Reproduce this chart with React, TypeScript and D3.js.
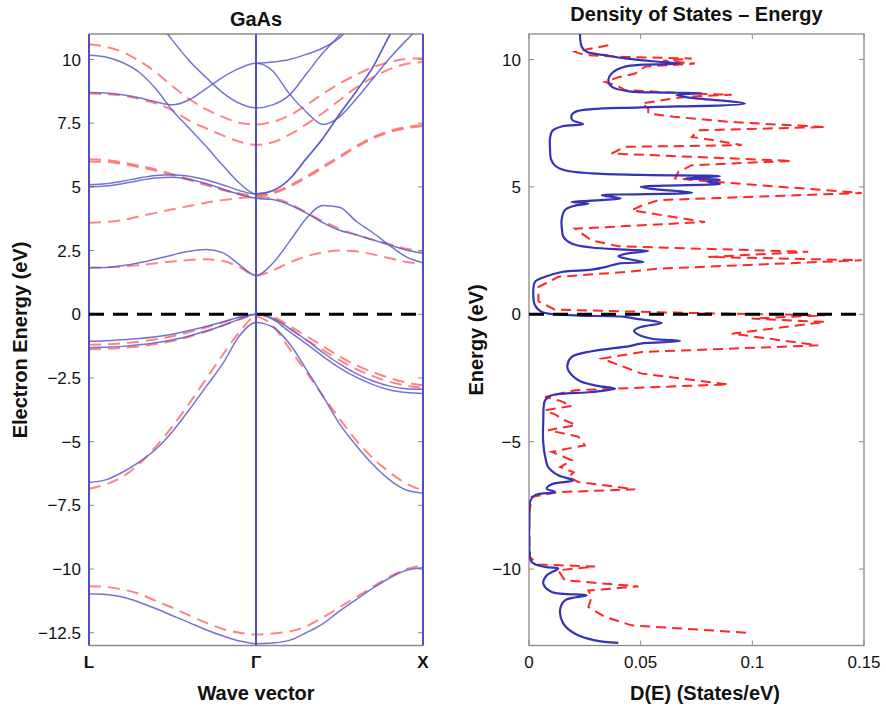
import React from 'react';
import * as d3 from 'd3';

// ---------- DATA ----------
const kGrid = [0, 0.05, 0.1, 0.15, 0.2, 0.25, 0.3, 0.35, 0.4, 0.45, 0.5, 0.55, 0.6, 0.65, 0.7, 0.75, 0.8, 0.85, 0.9, 0.95, 1.0];
const kLabels = ['L', 'Γ', 'X'];
const kLabelPos = [0, 0.5, 1];
const bandTicks = [-12.5, -10, -7.5, -5, -2.5, 0, 2.5, 5, 7.5, 10];
const dosTicksY = [-10, -5, 0, 5, 10];
const dosTicksX = [0, 0.05, 0.1, 0.15];

// solid (blue) bands
const blueB1 = [-10.97, -11.0, -11.1, -11.3, -11.55, -11.83, -12.1, -12.38, -12.62, -12.82, -12.93, -12.9, -12.8, -12.5, -12.15, -11.65, -11.2, -10.75, -10.35, -10.05, -9.95];
const blueB2 = [-6.6, -6.5, -6.2, -5.8, -5.3, -4.6, -3.75, -2.85, -1.95, -0.85, -0.32, -0.5, -1.15, -2.15, -3.2, -4.3, -5.15, -5.9, -6.5, -6.9, -7.02];
const blueB3 = [-1.06, -1.04, -1.0, -0.95, -0.88, -0.78, -0.64, -0.48, -0.3, -0.12, 0, -0.15, -0.55, -1.0, -1.5, -1.95, -2.33, -2.62, -2.82, -2.92, -2.94];
const blueB4 = [-1.31, -1.29, -1.26, -1.2, -1.12, -1.0, -0.85, -0.66, -0.44, -0.2, 0, -0.2, -0.68, -1.15, -1.65, -2.1, -2.47, -2.76, -2.97, -3.07, -3.11];
const blueC1 = [1.83, 1.84, 1.9, 2.02, 2.17, 2.33, 2.47, 2.54, 2.42, 1.95, 1.52, 2.0, 2.85, 3.75, 4.27, 4.2, 3.65, 3.2, 2.7, 2.25, 2.02];
const blueC2 = [5.0, 5.03, 5.12, 5.25, 5.35, 5.38, 5.3, 5.13, 4.92, 4.7, 4.55, 4.5, 4.3, 3.98, 3.6, 3.3, 3.12, 2.92, 2.72, 2.52, 2.38];
const blueC3 = [5.08, 5.12, 5.22, 5.35, 5.45, 5.48, 5.42, 5.28, 5.08, 4.86, 4.72, 4.85, 5.3, 6.1, 6.9, 7.85, 8.75, 9.7, 10.95, 12.0, 13.0];
const blueU1 = [10.17, 10.1, 9.88, 9.5, 8.85, 8.0, 7.3, 6.6, 5.85, 5.15, 4.72, 4.85, 5.3, 6.1, 6.9, 7.85, 8.75, 9.7, 10.95, 12.0, 13.0];
const blueU2 = [8.7, 8.68, 8.62, 8.5, 8.33, 8.22, 8.42, 8.85, 9.3, 9.65, 9.85, 9.55, 8.65, 7.95, 7.45, 7.75, 8.45, 9.25, 10.05, 10.75, 11.4];
const blueU3 = [14.0, 13.6, 13.0, 12.3, 11.6, 10.75, 9.95, 9.3, 8.7, 8.28, 8.1, 8.22, 8.6, 9.42, 10.25, 10.95, 11.7, 12.4, 13.1, 13.7, 14.0];
const blueU4 = [null, null, null, null, null, null, null, null, null, null, 9.85, 9.9, 10.0, 10.2, 10.45, 10.85, 11.5, 12.2, 12.9, 13.5, 14.0];

// dashed (red) bands
const redR1 = [-10.67, -10.7, -10.8, -10.97, -11.25, -11.52, -11.82, -12.1, -12.35, -12.5, -12.57, -12.53, -12.45, -12.25, -11.9, -11.5, -11.1, -10.7, -10.3, -10.0, -9.85];
const redR2 = [-6.85, -6.68, -6.38, -5.88, -5.2, -4.4, -3.5, -2.55, -1.6, -0.7, -0.1, -0.45, -1.35, -2.25, -3.2, -4.1, -4.95, -5.65, -6.2, -6.65, -6.91];
const redR3 = [-1.2, -1.18, -1.14, -1.08, -0.98, -0.86, -0.7, -0.52, -0.32, -0.13, 0, -0.1, -0.45, -0.85, -1.25, -1.65, -2.0, -2.27, -2.5, -2.68, -2.79];
const redR4 = [-1.38, -1.36, -1.32, -1.26, -1.17, -1.05, -0.88, -0.68, -0.45, -0.21, 0, -0.15, -0.55, -1.0, -1.4, -1.8, -2.15, -2.43, -2.65, -2.8, -2.88];
const redC1 = [1.83, 1.84, 1.87, 1.93, 2.0, 2.07, 2.13, 2.16, 2.1, 1.85, 1.52, 1.72, 2.03, 2.27, 2.43, 2.5, 2.47, 2.35, 2.2, 2.05, 1.99];
const redC2 = [3.59, 3.62, 3.7, 3.84, 3.98, 4.12, 4.25, 4.38, 4.48, 4.56, 4.6, 4.55, 4.35, 4.0, 3.65, 3.35, 3.12, 2.92, 2.75, 2.57, 2.47];
const redC3 = [6.08, 6.05, 5.96, 5.83, 5.68, 5.5, 5.3, 5.1, 4.9, 4.74, 4.66, 4.78, 5.05, 5.4, 5.8, 6.2, 6.6, 6.95, 7.2, 7.35, 7.42];
const redC4 = [6.0, 5.98, 5.9, 5.78, 5.63, 5.46, 5.27, 5.07, 4.88, 4.72, 4.64, 4.74, 5.0, 5.35, 5.75, 6.15, 6.55, 6.9, 7.15, 7.3, 7.38];
const redU1 = [8.66, 8.64, 8.58, 8.45, 8.28, 8.0, 7.6, 7.3, 7.02, 6.78, 6.65, 6.75, 7.05, 7.45, 7.9, 8.4, 8.9, 9.3, 9.62, 9.82, 9.9];
const redU2 = [10.6, 10.5, 10.3, 9.95, 9.5, 8.95, 8.45, 8.05, 7.75, 7.52, 7.45, 7.55, 7.8, 8.2, 8.65, 9.05, 9.4, 9.7, 9.9, 10.02, 10.05];

// density of states, solid (blue)
const dosBlueE = [11.15, 10.5, 10.3, 10.17, 10.04, 9.91, 9.84, 9.72, 9.45, 9.19, 8.93, 8.75, 8.7, 8.68, 8.6, 8.5, 8.27, 8.12, 8.05, 7.94, 7.8, 7.62, 7.46, 7.38, 7.2, 6.9, 6.5, 6.1, 5.85, 5.65, 5.53, 5.47, 5.42, 5.33, 5.28, 5.2, 5.12, 5.05, 5.0, 4.92, 4.77, 4.7, 4.67, 4.55, 4.47, 4.41, 4.35, 4.25, 4.08, 3.7, 3.3, 3.04, 2.78, 2.62, 2.54, 2.49, 2.4, 2.28, 2.16, 2.05, 1.99, 1.87, 1.75, 1.66, 1.47, 1.27, 0.81, 0.35, 0.09, -0.04, -0.1, -0.17, -0.34, -0.5, -0.65, -0.8, -0.96, -1.05, -1.15, -1.25, -1.45, -1.68, -2.0, -2.2, -2.59, -2.8, -2.92, -3.05, -3.18, -3.38, -4.16, -5.08, -5.7, -6.0, -6.32, -6.52, -6.67, -6.84, -6.98, -7.1, -7.37, -8.0, -9.27, -9.72, -9.92, -9.98, -10.25, -10.57, -10.9, -11.03, -11.23, -11.62, -12.14, -12.54, -12.8, -12.9];
const dosBlueD = [0.0228, 0.0236, 0.0258, 0.034, 0.043, 0.058, 0.0676, 0.043, 0.037, 0.0355, 0.037, 0.045, 0.06, 0.0773, 0.066, 0.072, 0.0967, 0.05, 0.028, 0.0206, 0.019, 0.0195, 0.0243, 0.015, 0.0105, 0.0094, 0.0094, 0.0098, 0.0115, 0.016, 0.028, 0.05, 0.0855, 0.07, 0.0855, 0.08, 0.0855, 0.06, 0.05, 0.055, 0.073, 0.04, 0.0326, 0.041, 0.03, 0.019, 0.0266, 0.02, 0.016, 0.0146, 0.0148, 0.0154, 0.019, 0.028, 0.043, 0.0534, 0.045, 0.04, 0.045, 0.0512, 0.04, 0.035, 0.028, 0.0146, 0.0072, 0.0027, 0.0019, 0.0027, 0.0057, 0.0206, 0.043, 0.0475, 0.0594, 0.05, 0.047, 0.049, 0.055, 0.0676, 0.05, 0.045, 0.028, 0.019, 0.0172, 0.0176, 0.0221, 0.03, 0.0385, 0.028, 0.0102, 0.0072, 0.0064, 0.0064, 0.0075, 0.0086, 0.0131, 0.0198, 0.0102, 0.0079, 0.0116, 0.0027, 0.0004, 0.0002, 0.0002, 0.0012, 0.0072, 0.0131, 0.0079, 0.0064, 0.0102, 0.0258, 0.0161, 0.0139, 0.0154, 0.0206, 0.0296, 0.04];

// density of states, dashed (red)
const dosRedE = [10.56, 10.3, 10.17, 10.1, 10.04, 9.95, 9.84, 9.72, 9.45, 9.3, 9.12, 8.95, 8.8, 8.66, 8.62, 8.53, 8.45, 8.27, 8.08, 7.88, 7.75, 7.55, 7.45, 7.35, 7.22, 6.96, 6.8, 6.64, 6.57, 6.31, 6.02, 5.85, 5.59, 5.33, 5.19, 4.76, 4.48, 4.25, 4.08, 3.62, 3.36, 2.9, 2.67, 2.45, 2.25, 2.12, 1.79, 1.66, 1.47, 1.07, 0.52, 0.18, 0.05, -0.04, -0.17, -0.3, -0.76, -1.22, -1.48, -1.74, -2.33, -2.75, -2.98, -3.25, -3.4, -3.6, -3.77, -3.95, -4.16, -4.35, -4.55, -4.8, -5.14, -5.4, -5.73, -6.0, -6.2, -6.39, -6.58, -6.87, -6.98, -7.17, -7.9, -9.53, -9.82, -9.9, -10.05, -10.44, -10.68, -10.84, -11.1, -11.49, -11.88, -12.21, -12.51];
const dosRedD = [0.0355, 0.0206, 0.025, 0.043, 0.0729, 0.06, 0.0743, 0.052, 0.0475, 0.04, 0.034, 0.04, 0.043, 0.0729, 0.0908, 0.07, 0.063, 0.0505, 0.0534, 0.0534, 0.065, 0.09, 0.11, 0.1326, 0.0758, 0.0729, 0.085, 0.0952, 0.043, 0.037, 0.1176, 0.0729, 0.0669, 0.0654, 0.0848, 0.149, 0.058, 0.05, 0.046, 0.0788, 0.0206, 0.028, 0.04, 0.125, 0.0803, 0.149, 0.058, 0.043, 0.0131, 0.0042, 0.0042, 0.0116, 0.0729, 0.1326, 0.0997, 0.1326, 0.0908, 0.1295, 0.0505, 0.0326, 0.0505, 0.0893, 0.0206, 0.0072, 0.014, 0.019, 0.0072, 0.012, 0.016, 0.021, 0.0086, 0.022, 0.025, 0.0102, 0.0191, 0.014, 0.02, 0.0176, 0.0221, 0.0475, 0.0131, 0.0012, 0.0, 0.0004, 0.0042, 0.0296, 0.0131, 0.016, 0.049, 0.0266, 0.028, 0.0266, 0.034, 0.046, 0.0997];

const blueBands = [blueB1, blueB2, blueB3, blueB4, blueC1, blueC2, blueC3, blueU1, blueU2, blueU3, blueU4];
const redBands = [redR1, redR2, redR3, redR4, redC1, redC2, redC3, redC4, redU1, redU2];

// ---------- LAYOUT ----------
const W = 886, H = 712;
const TOP = 34, BOT = 645.5;
const L1 = 89, R1 = 423;
const L2 = 529, R2 = 864;
const FONT = 'Liberation Sans, Arial, Helvetica, sans-serif';

const fmt = (v: number) => (v < 0 ? '\u2212' + String(Math.abs(v)) : String(v));

export default function App() {
  const xK = d3.scaleLinear().domain([0, 1]).range([L1, R1]);
  const yE = d3.scaleLinear().domain([-13, 11]).range([BOT, TOP]);
  const xD = d3.scaleLinear().domain([0, 0.15]).range([L2, R2]);

  const bandLine = d3
    .line<number | null>()
    .defined((d) => d !== null)
    .x((_, i) => xK(kGrid[i]))
    .y((d) => yE(d as number))
    .curve(d3.curveMonotoneX);

  const dosBlueLine = d3
    .line<number>()
    .x((d) => xD(d))
    .y((_, i) => yE(dosBlueE[i]))
    .curve(d3.curveCatmullRom.alpha(0.5));

  const dosRedLine = d3
    .line<number>()
    .x((d) => xD(d))
    .y((_, i) => yE(dosRedE[i]))
    .curve(d3.curveLinear);

  const blueC = '#5c5cc8';
  const redC = '#ff6e6e';
  const grey = '#8a8a8a';

  return (
    <div style={{ position: 'fixed', left: 0, top: 0, width: W, height: H, background: '#fff' }}>
      <svg width={W} height={H} viewBox={`0 0 ${W} ${H}`} style={{ display: 'block' }}>
        <defs>
          <clipPath id="clipL">
            <rect x={L1} y={TOP} width={R1 - L1} height={BOT - TOP} />
          </clipPath>
          <clipPath id="clipR">
            <rect x={L2} y={TOP} width={R2 - L2} height={BOT - TOP} />
          </clipPath>
        </defs>
        <rect x={0} y={0} width={W} height={H} fill="#fff" />

        {/* ===== Left panel: band structure ===== */}
        <g>
          <line x1={L1} x2={R1} y1={TOP} y2={TOP} stroke={grey} strokeWidth={1.3} />
          <line x1={L1} x2={R1} y1={BOT} y2={BOT} stroke={grey} strokeWidth={1.3} />
          {bandTicks.map((t) => (
            <g key={'lt' + t}>
              <line x1={L1} x2={L1 + 5} y1={yE(t)} y2={yE(t)} stroke={grey} strokeWidth={1} />
              <line x1={R1 - 5} x2={R1} y1={yE(t)} y2={yE(t)} stroke={grey} strokeWidth={1} />
              <text x={81} y={yE(t)} dy="0.36em" textAnchor="end" fontFamily={FONT} fontSize={17} fill="#111">
                {fmt(t)}
              </text>
            </g>
          ))}
          <g clipPath="url(#clipL)">
            {redBands.map((b, i) => (
              <path key={'rb' + i} d={bandLine(b) || ''} fill="none" stroke={redC} strokeWidth={2} strokeDasharray="12 7" opacity={0.85} />
            ))}
            {blueBands.map((b, i) => (
              <path key={'bb' + i} d={bandLine(b) || ''} fill="none" stroke={blueC} strokeWidth={1.5} opacity={0.85} />
            ))}
          </g>
          {kLabelPos.map((k) => (
            <line key={'v' + k} x1={xK(k)} x2={xK(k)} y1={TOP} y2={BOT} stroke="#5050c0" strokeWidth={2} />
          ))}
          <line x1={L1} x2={R1} y1={yE(0)} y2={yE(0)} stroke="#000" strokeWidth={3} strokeDasharray="15 9" />
          {kLabels.map((lab, i) => (
            <text key={'kl' + i} x={xK(kLabelPos[i])} y={668} textAnchor="middle" fontFamily={FONT} fontWeight="bold" fontSize={17} fill="#111">
              {lab}
            </text>
          ))}
          <text x={(L1 + R1) / 2} y={26} textAnchor="middle" fontFamily={FONT} fontWeight="bold" fontSize={20} fill="#111">
            GaAs
          </text>
          <text x={(L1 + R1) / 2} y={700} textAnchor="middle" fontFamily={FONT} fontWeight="bold" fontSize={20} fill="#111">
            Wave vector
          </text>
          <text
            transform={`translate(27, 340) rotate(-90)`}
            textAnchor="middle"
            fontFamily={FONT}
            fontWeight="bold"
            fontSize={20}
            fill="#111"
          >
            Electron Energy (eV)
          </text>
        </g>

        {/* ===== Right panel: DOS ===== */}
        <g>
          <rect x={L2} y={TOP} width={R2 - L2} height={BOT - TOP} fill="none" stroke={grey} strokeWidth={1.3} />
          {dosTicksY.map((t) => (
            <g key={'rt' + t}>
              <line x1={L2} x2={L2 + 5} y1={yE(t)} y2={yE(t)} stroke={grey} strokeWidth={1} />
              <line x1={R2 - 5} x2={R2} y1={yE(t)} y2={yE(t)} stroke={grey} strokeWidth={1} />
              <text x={521} y={yE(t)} dy="0.36em" textAnchor="end" fontFamily={FONT} fontSize={17} fill="#111">
                {fmt(t)}
              </text>
            </g>
          ))}
          {dosTicksX.map((t) => (
            <g key={'rx' + t}>
              <line x1={xD(t)} x2={xD(t)} y1={BOT} y2={BOT - 5} stroke={grey} strokeWidth={1} />
              <line x1={xD(t)} x2={xD(t)} y1={TOP} y2={TOP + 5} stroke={grey} strokeWidth={1} />
              <text x={xD(t)} y={668} textAnchor="middle" fontFamily={FONT} fontSize={17} fill="#111">
                {String(t)}
              </text>
            </g>
          ))}
          <g clipPath="url(#clipR)">
            <path d={dosRedLine(dosRedD) || ''} fill="none" stroke="#ff2626" strokeWidth={2} strokeDasharray="10 6" />
            <path d={dosBlueLine(dosBlueD) || ''} fill="none" stroke="#3434b4" strokeWidth={2.2} />
          </g>
          <line x1={L2} x2={R2} y1={yE(0)} y2={yE(0)} stroke="#000" strokeWidth={3} strokeDasharray="15 9" />
          <text x={(L2 + R2) / 2} y={21} textAnchor="middle" fontFamily={FONT} fontWeight="bold" fontSize={20} fill="#111">
            Density of States – Energy
          </text>
          <text x={705} y={700} textAnchor="middle" fontFamily={FONT} fontWeight="bold" fontSize={20} fill="#111">
            D(E) (States/eV)
          </text>
          <text
            transform={`translate(483, 340) rotate(-90)`}
            textAnchor="middle"
            fontFamily={FONT}
            fontWeight="bold"
            fontSize={20}
            fill="#111"
          >
            Energy (eV)
          </text>
        </g>
      </svg>
    </div>
  );
}
